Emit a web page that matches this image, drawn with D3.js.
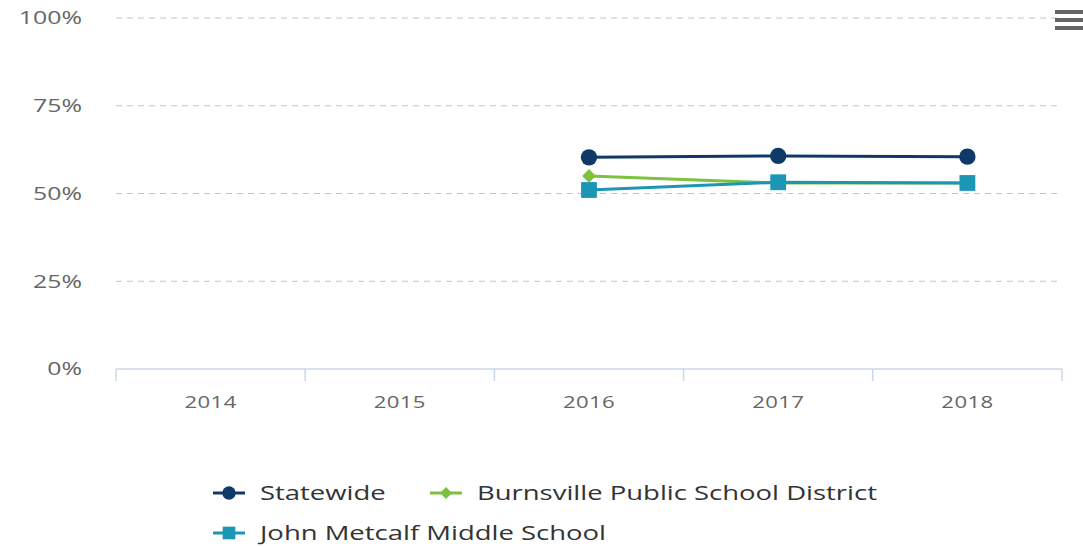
<!DOCTYPE html>
<html>
<head>
<meta charset="utf-8">
<script src="https://cdn.jsdelivr.net/npm/d3@7"></script>
<style>
  body { margin: 0; background: #fff; }
  svg { display: block; font-family: "Open Sans", "DejaVu Sans", sans-serif; }
</style>
</head>
<body>
<div id="chart"></div>
<script>
var years = ["2014", "2015", "2016", "2017", "2018"];
var yTicks = [0, 25, 50, 75, 100];

var statewide   = [null, null, 60.3, 60.7, 60.5];
var burnsville  = [null, null, 55.0, 53.0, 53.0];
var johnMetcalf = [null, null, 51.0, 53.2, 53.0];

var seriesNames = ["Statewide", "Burnsville Public School District", "John Metcalf Middle School"];
var seriesColors = ["#0f3a68", "#7cc23f", "#1c96b5"];
var seriesSymbols = ["circle", "diamond", "square"];

var W = 1083, H = 547;
var margin = {top: 18, right: 21, bottom: 178, left: 116};
var width = W - margin.left - margin.right,
    height = H - margin.top - margin.bottom;

// text in the source is drawn a bit wide
var stretch = 1.38;

var svg = d3.select("#chart").append("svg")
    .attr("width", W)
    .attr("height", H);

var g = svg.append("g")
    .attr("transform", "translate(" + margin.left + "," + margin.top + ")");

var x = d3.scaleBand().domain(years).range([0, width]);
var y = d3.scaleLinear().domain([0, 100]).range([height, 0]);

// grid
g.selectAll(".grid")
    .data(yTicks.filter(function(d) { return d > 0; }))
  .enter().append("line")
    .attr("x1", 0).attr("x2", width)
    .attr("y1", function(d) { return y(d); })
    .attr("y2", function(d) { return y(d); })
    .attr("stroke", "#c4c4c4")
    .attr("stroke-width", 1)
    .attr("stroke-dasharray", "6,5");

// y labels
g.selectAll(".ylab")
    .data(yTicks)
  .enter().append("text")
    .attr("transform", function(d) { return "translate(-34," + y(d) + ") scale(" + stretch + ",1)"; })
    .attr("dy", "0.35em")
    .attr("text-anchor", "end")
    .attr("fill", "#666")
    .attr("font-size", "18px")
    .text(function(d) { return d + "%"; });

// x axis
var xAxis = g.append("g")
    .attr("transform", "translate(0," + height + ")");
xAxis.append("line")
    .attr("x1", 0).attr("x2", width)
    .attr("stroke", "#ccd6eb").attr("stroke-width", 1.5);
var tickPos = years.map(function(d) { return x(d); }).concat([width]);
xAxis.selectAll(".tick")
    .data(tickPos)
  .enter().append("line")
    .attr("x1", function(d) { return d; })
    .attr("x2", function(d) { return d; })
    .attr("y1", 0).attr("y2", 12)
    .attr("stroke", "#ccd6eb").attr("stroke-width", 1.5);
xAxis.selectAll(".xlab")
    .data(years)
  .enter().append("text")
    .attr("transform", function(d) {
      return "translate(" + (x(d) + x.bandwidth() / 2) + ",39) scale(" + stretch + ",1)";
    })
    .attr("text-anchor", "middle")
    .attr("fill", "#666")
    .attr("font-size", "16px")
    .attr("letter-spacing", "0.3px")
    .text(function(d) { return d; });

var allSeries = [statewide, burnsville, johnMetcalf];

var line = d3.line()
    .defined(function(d) { return d.v != null; })
    .x(function(d) { return x(d.year) + x.bandwidth() / 2; })
    .y(function(d) { return y(d.v); });

function symbolPath(type, size) {
  var t = type === "circle" ? d3.symbolCircle : type === "diamond" ? d3.symbolDiamond2 : d3.symbolSquare;
  return d3.symbol().type(t).size(size)();
}
var symbolSizes = {circle: 210, diamond: 120, square: 250};

allSeries.forEach(function(vals, i) {
  var pts = years.map(function(yr, j) { return {year: yr, v: vals[j]}; });
  g.append("path")
      .datum(pts)
      .attr("fill", "none")
      .attr("stroke", seriesColors[i])
      .attr("stroke-width", 3)
      .attr("d", line);
  g.selectAll(".pt" + i)
      .data(pts.filter(function(d) { return d.v != null; }))
    .enter().append("path")
      .attr("transform", function(d) {
        return "translate(" + (x(d.year) + x.bandwidth() / 2) + "," + y(d.v) + ")";
      })
      .attr("d", symbolPath(seriesSymbols[i], symbolSizes[seriesSymbols[i]]))
      .attr("fill", seriesColors[i]);
});

// legend
var legendPos = [[213, 493], [430, 493], [213, 533]];
seriesNames.forEach(function(name, i) {
  var lg = svg.append("g")
      .attr("transform", "translate(" + legendPos[i][0] + "," + legendPos[i][1] + ")");
  lg.append("line")
      .attr("x1", 0).attr("x2", 32)
      .attr("stroke", seriesColors[i]).attr("stroke-width", 3);
  var s = seriesSymbols[i];
  lg.append("path")
      .attr("transform", "translate(16,0)")
      .attr("d", symbolPath(s, s === "circle" ? 140 : s === "diamond" ? 90 : 160))
      .attr("fill", seriesColors[i]);
  lg.append("text")
      .attr("transform", "translate(47,0) scale(1.34,1)")
      .attr("dy", "0.35em")
      .attr("fill", "#333")
      .attr("font-size", "20.5px")
      .text(name);
});

// menu icon
var menu = svg.append("g").attr("transform", "translate(1055,10)");
[0, 8, 16].forEach(function(d) {
  menu.append("rect")
      .attr("x", 0).attr("y", d)
      .attr("width", 28).attr("height", 4)
      .attr("fill", "#666");
});
</script>
</body>
</html>
